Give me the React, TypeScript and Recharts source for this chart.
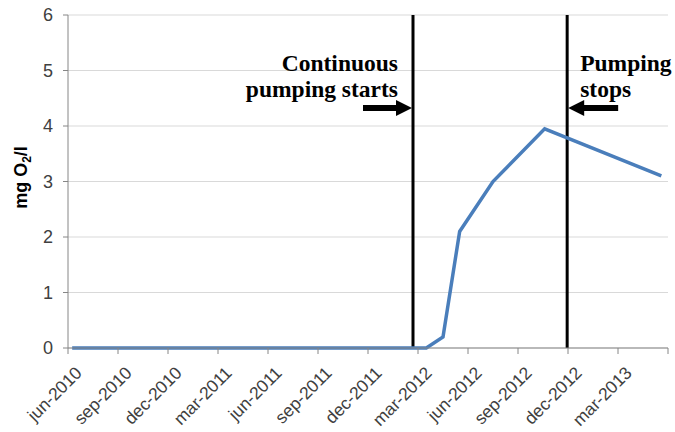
import { LineChart, Line, XAxis, YAxis, CartesianGrid, ReferenceLine } from 'recharts';

// months counted from jun-2010
const sampleMonths = [0.25, 21.5, 22.5, 23.5, 25.5, 28.6, 35.6];
const oxygen = [0, 0, 0.2, 2.1, 3.0, 3.95, 3.1];

const tickMonths = [0, 3, 6, 9, 12, 15, 18, 21, 24, 27, 30, 33, 36];
const tickLabels = [
  'jun-2010', 'sep-2010', 'dec-2010', 'mar-2011', 'jun-2011', 'sep-2011',
  'dec-2011', 'mar-2012', 'jun-2012', 'sep-2012', 'dec-2012', 'mar-2013', '',
];
const yTicks = [0, 1, 2, 3, 4, 5, 6];

const pumpingStart = 20.7;
const pumpingStop = 29.95;

const data = sampleMonths.map((m, i) => ({ month: m, value: oxygen[i] }));

const axisFont = '"Liberation Sans", Arial, sans-serif';
const noteFont = '"Liberation Serif", "Times New Roman", serif';

const XTick = ({ x, y, payload }: any) => {
  const label = tickLabels[tickMonths.indexOf(payload.value)] ?? '';
  const ax = x + 15;
  const ay = y + 18;
  return (
    <text
      x={ax}
      y={ay}
      transform={`rotate(-45, ${ax}, ${ay})`}
      textAnchor="end"
      fontFamily={axisFont}
      fontSize={17.5}
      fill="#404040"
    >
      {label}
    </text>
  );
};

const YLabel = ({ viewBox }: any) => {
  const cx = viewBox.x + 27;
  const cy = viewBox.y + viewBox.height / 2 - 4;
  return (
    <text
      x={cx}
      y={cy}
      transform={`rotate(-90, ${cx}, ${cy})`}
      textAnchor="middle"
      fontFamily={axisFont}
      fontWeight="bold"
      fontSize={18}
      fill="#000"
    >
      mg O<tspan fontSize={12} dy={4}>2</tspan><tspan dy={-4}>/l</tspan>
    </text>
  );
};

const StartNote = ({ viewBox }: any) => {
  const x = viewBox.x;
  const top = viewBox.y;
  const ay = top + 93;
  return (
    <g>
      <text x={x - 15} y={top + 56} textAnchor="end" fontFamily={noteFont} fontWeight="bold" fontSize={23.5} fill="#000">
        Continuous
      </text>
      <text x={x - 15} y={top + 82} textAnchor="end" fontFamily={noteFont} fontWeight="bold" fontSize={23.5} fill="#000">
        pumping starts
      </text>
      <rect x={x - 50} y={ay - 3} width={34} height={6} fill="#000" />
      <polygon points={`${x - 17},${ay - 8} ${x - 1},${ay} ${x - 17},${ay + 8}`} fill="#000" />
    </g>
  );
};

const StopNote = ({ viewBox }: any) => {
  const x = viewBox.x;
  const top = viewBox.y;
  const ay = top + 93;
  return (
    <g>
      <text x={x + 13} y={top + 56} fontFamily={noteFont} fontWeight="bold" fontSize={23.5} fill="#000">
        Pumping
      </text>
      <text x={x + 13} y={top + 82} fontFamily={noteFont} fontWeight="bold" fontSize={23.5} fill="#000">
        stops
      </text>
      <rect x={x + 16} y={ay - 3} width={35} height={6} fill="#000" />
      <polygon points={`${x + 17},${ay - 8} ${x + 1},${ay} ${x + 17},${ay + 8}`} fill="#000" />
    </g>
  );
};

export default function App() {
  return (
    <div style={{ position: 'absolute', left: 0, top: 0, background: '#fff' }}>
      <LineChart width={675} height={432} data={data} margin={{ top: 15, right: 7, bottom: 0, left: 0 }}>
        <CartesianGrid vertical={false} stroke="#d9d9d9" />
        <XAxis
          dataKey="month"
          type="number"
          domain={[0, 36]}
          ticks={tickMonths}
          interval={0}
          height={84}
          stroke="#868686"
          tickSize={6}
          tick={<XTick />}
        />
        <YAxis
          domain={[0, 6]}
          ticks={yTicks}
          width={68}
          stroke="#868686"
          tickSize={5}
          tick={{ fill: '#404040', fontSize: 18, fontFamily: axisFont, dx: -8 }}
          label={<YLabel />}
        />
        <ReferenceLine x={pumpingStart} stroke="#000" strokeWidth={3} label={<StartNote />} />
        <ReferenceLine x={pumpingStop} stroke="#000" strokeWidth={3} label={<StopNote />} />
        <Line
          type="linear"
          dataKey="value"
          stroke="#4a7ebb"
          strokeWidth={3.5}
          dot={false}
          isAnimationActive={false}
        />
      </LineChart>
    </div>
  );
}
